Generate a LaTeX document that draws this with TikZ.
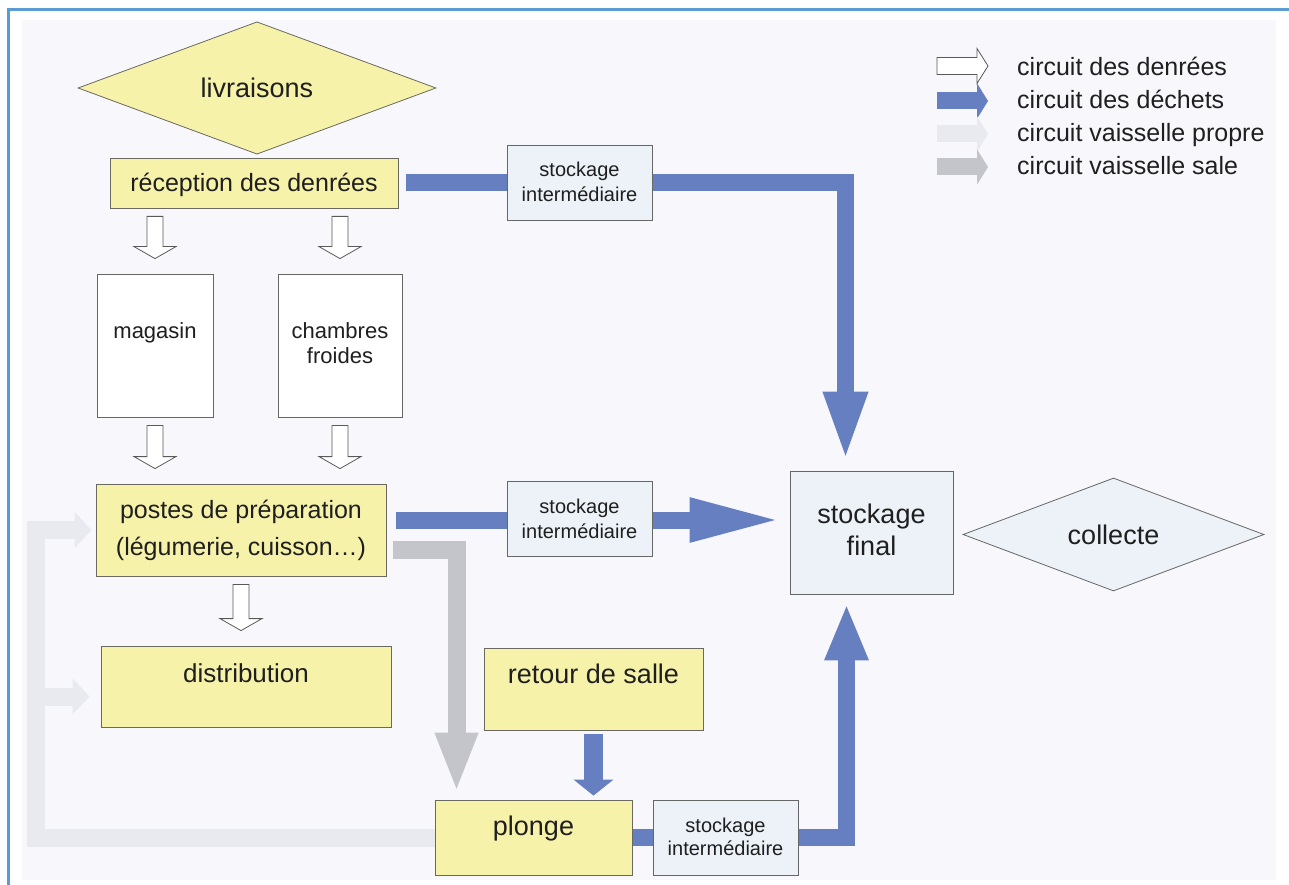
\documentclass[tikz,border=0pt]{standalone}
\usepackage{fontspec}
\setmainfont{Liberation Sans}
\usetikzlibrary{arrows.meta,calc,shapes.geometric}
\definecolor{bgfill}{RGB}{248,248,252}
\definecolor{framecol}{RGB}{91,155,213}
\definecolor{denree}{RGB}{247,242,170}
\definecolor{boxline}{RGB}{105,105,95}
\definecolor{pale}{RGB}{236,242,248}
\definecolor{dechet}{RGB}{101,127,192}
\definecolor{sale}{RGB}{196,197,203}
\definecolor{propre}{RGB}{232,234,240}
\pgfdeclarelayer{back}
\pgfdeclarelayer{flows}
\pgfsetlayers{back,flows,main}
\tikzset{cuisineFig/.style={x=1pt,y=-1pt,text=black!88},
         yellowBox/.style={draw=boxline,fill=denree,line width=0.8pt,inner sep=0pt,align=center,
                    font=\fontsize{27}{32}\selectfont},
         whiteBox/.style={draw=black!60,fill=white,line width=0.8pt,inner sep=0pt,align=center,
                    font=\fontsize{22}{25}\selectfont},
         stockBox/.style={draw=black!60,fill=pale,line width=0.8pt,inner sep=0pt,align=center,
                    font=\fontsize{20}{25}\selectfont},
         legText/.style={anchor=base west,inner sep=0pt,font=\fontsize{25}{30}\selectfont},
         dechetFlow/.style={draw=dechet,line width=17pt,-{Triangle[width=40pt,length=#1]}},
         saleFlow/.style={draw=sale,line width=18pt,-{Triangle[width=39pt,length=#1]}},
         propreFlow/.style={draw=propre,line width=18pt,-{Triangle[width=35pt,length=#1]}},
         legendFlow/.style={line width=17pt,-{Triangle[width=35pt,length=11pt]}},
         denreeFlow/.style={draw=black!65,fill=white,line width=0.8pt,
                    to path={let \p1=(\tikztostart),\p2=(\tikztotarget) in
                    (\x1-8pt,\y1-8pt) -- (\x1-8pt,\y2+27pt) -- (\x1-21pt,\y2+27pt) -- (\x1,\y2+15pt)
                    -- (\x1+21pt,\y2+27pt) -- (\x1+8pt,\y2+27pt) -- (\x1+8pt,\y1-8pt) -- cycle}},
         legendeDenree/.style={draw=black!65,fill=white,line width=0.8pt,
                    to path={let \p1=(\tikztostart),\p2=(\tikztotarget) in
                    (\x1,\y1+8.5pt) -- (\x2-11pt,\y1+8.5pt) -- (\x2-11pt,\y1+17.5pt) -- (\x2,\y1)
                    -- (\x2-11pt,\y1-17.5pt) -- (\x2-11pt,\y1-8.5pt) -- (\x1,\y1-8.5pt) -- cycle}}}
\begin{document}
\begin{tikzpicture}[cuisineFig]
    \useasboundingbox (0,0) rectangle (1289,885);
    \begin{pgfonlayer}{back}
        \fill[white] (0,0) rectangle (1289,885);
        \fill[bgfill] (22,20) rectangle (1276,880);
        \draw[framecol,line width=3pt] (8,885) -- (8,10) -- (1289,10);
    \end{pgfonlayer}

    %DENREES
    \node [diamond,draw=boxline,fill=denree,line width=0.8pt,inner sep=0pt,
           minimum width=358pt,minimum height=124pt,font=\fontsize{27}{32}\selectfont] (liv) at (257,88) {livraisons};
    \node [yellowBox,minimum width=288pt,text height=34pt,text depth=16pt,
           font=\fontsize{25}{30}\selectfont] (rec) at (254,183) {réception des denrées};
    \node [whiteBox,minimum width=116pt,text height=64pt,text depth=79pt] (mag) at (155,345.5) {magasin};
    \node [whiteBox,minimum width=124pt,text height=89pt,text depth=54pt] (cha) at (340,345.5) {chambres\\froides};
    \node [yellowBox,minimum width=290pt,text height=71pt,text depth=21pt,
           font=\fontsize{25}{37}\selectfont] (prep) at (241,530) {postes de préparation\\(légumerie, cuisson…)};
    \node [yellowBox,minimum width=290pt,text height=36pt,text depth=45pt,
           font=\fontsize{26}{31}\selectfont] (dist) at (246,686.5) {distribution};
    %VAISSELLE
    \node [yellowBox,minimum width=219pt,text height=35pt,text depth=47pt] (ret) at (593.5,689) {retour de salle};
    \node [yellowBox,minimum width=197pt,text height=35pt,text depth=40pt] (plo) at (533.5,837.5) {plonge};
    %DECHETS
    \node [stockBox,minimum width=145pt,text height=57pt,text depth=18pt] (st1) at (579.5,182.5) {stockage\\intermédiaire};
    \node [stockBox,minimum width=145pt,text height=57pt,text depth=18pt] (st2) at (579.5,518.5) {stockage\\intermédiaire};
    \node [stockBox,minimum width=145pt,text height=55pt,text depth=20pt,
           font=\fontsize{20}{23}\selectfont] (st3) at (725.5,837.5) {stockage\\intermédiaire};
    \node [stockBox,minimum width=163pt,text height=84pt,text depth=39pt,
           font=\fontsize{27}{32}\selectfont] (fin) at (871.5,532.5) {stockage\\final};
    \node [diamond,draw=black!60,fill=pale,line width=0.8pt,inner sep=0pt,
           minimum width=301pt,minimum height=113pt,font=\fontsize{27}{32}\selectfont] (col) at (1113.5,534.5) {collecte};
    %LEGENDE
    \node [legText] (lt1) at (1017,76)  {circuit des denrées};
    \node [legText] (lt2) at (1017,109) {circuit des déchets};
    \node [legText] (lt3) at (1017,142) {circuit vaisselle propre};
    \node [legText] (lt4) at (1017,175) {circuit vaisselle sale};
    \coordinate (lk1) at (937,66);  \coordinate (lk1e) at (988,66);
    \coordinate (lk2) at (937,101); \coordinate (lk2e) at (988,101);
    \coordinate (lk3) at (937,134); \coordinate (lk3e) at (988,134);
    \coordinate (lk4) at (937,167); \coordinate (lk4e) at (988,167);

    \coordinate (prepHaut) at ([yshift=10pt]prep.east);
    \coordinate (retourPropre) at ([xshift=-60pt]prep.west);
    \coordinate (distIn) at ([yshift=-10pt]dist.west);

    \begin{pgfonlayer}{flows}
        %DECHETS
        \draw[dechetFlow=70pt,shorten <=8pt,shorten >=9pt] (rec.east) -| ([xshift=-26pt]fin.north);
        \draw[dechetFlow=93pt,shorten <=10pt,shorten >=7pt] (prepHaut) -- (prepHaut -| fin.west);
        \draw[dechetFlow=57pt,shorten >=9pt] (plo.east) -| ([xshift=-25pt]fin.south);
        \draw[dechetFlow=16pt,line width=19pt,-{Triangle[width=39pt,length=16pt]},
              shorten <=4pt,shorten >=4pt] (ret.south) -- (ret.south |- plo.north);
        %VAISSELLE
        \draw[saleFlow=60pt,shorten <=7pt,shorten >=7pt] ([yshift=-20pt]prep.east) -| ([xshift=-77pt]plo.north);
        \draw[propreFlow=17pt,shorten >=4pt] (plo.west) -| (retourPropre) -- (prep.west);
        \draw[propreFlow=17pt,shorten >=11pt] (retourPropre |- distIn) -- (distIn);
    \end{pgfonlayer}

    \path
        %DENREES
        (rec.south -| mag.north) edge [denreeFlow] (mag.north)
        (rec.south -| cha.north) edge [denreeFlow] (cha.north)
        (mag.south) edge [denreeFlow] (mag.south |- prep.north)
        (cha.south) edge [denreeFlow] (cha.south |- prep.north)
        (prep.south) edge [denreeFlow] (prep.south |- dist.north)
        %LEGENDE
        (lk1) edge [legendeDenree] (lk1e);
    \draw[dechetFlow=11pt,legendFlow] (lk2) -- (lk2e);
    \draw[propreFlow=11pt,legendFlow] (lk3) -- (lk3e);
    \draw[saleFlow=11pt,legendFlow] (lk4) -- (lk4e);
\end{tikzpicture}
\end{document}
